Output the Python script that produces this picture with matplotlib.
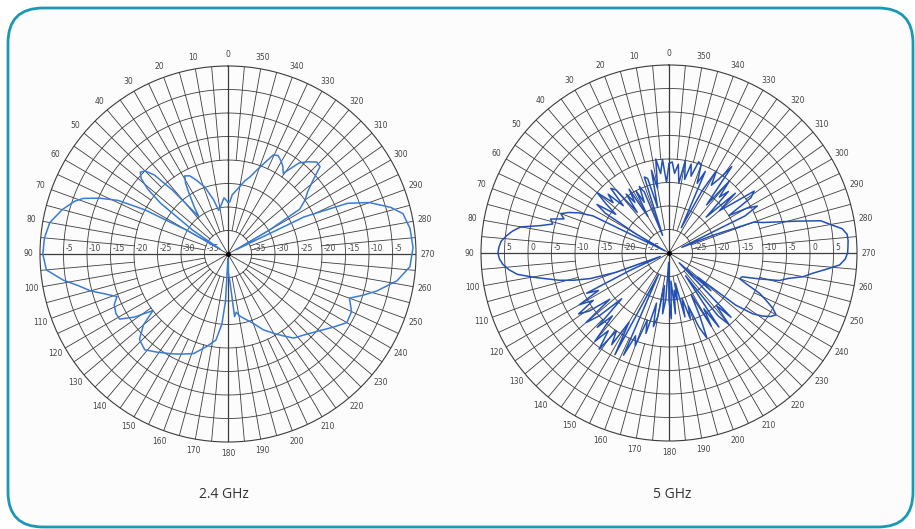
import numpy as np
import matplotlib.pyplot as plt
from matplotlib.patches import FancyBboxPatch

# 2.4 GHz pattern (angle in degrees, gain in dB)
ang24 = [0, 4, 8, 12, 15, 19, 23, 26, 29, 31, 33, 36, 38, 41, 43, 45, 47, 49, 51, 53,
         56, 58, 60, 62, 64, 66.5, 69, 71, 75, 80, 85, 90, 95, 99, 102, 105, 108, 111,
         114, 118, 121, 124, 127, 130, 134, 139, 144, 150, 155, 161, 167, 172, 175, 177,
         179, 181, 184, 186, 188, 191, 196, 200, 205, 210, 214, 218, 224, 230, 235, 240,
         245, 250, 253, 256, 261, 266, 272, 278, 283, 286, 290, 293, 296, 298, 300, 302,
         305, 308, 311, 313.5, 316, 319, 322, 325.6, 328, 330, 333, 335.4, 338, 341, 344,
         347, 350, 353, 356, 358]
gain24 = [-29, -28, -29.5, -30.5, -28, -25, -23, -21.5, -21, -22.5, -25, -28, -30, -22,
          -17, -15, -14.5, -15.5, -18, -22, -31, -38, -30, -20, -14, -10.2, -7, -5.5,
          -3.5, -1.5, -0.8, -0.6, -1.2, -4.5, -7.5, -9.7, -12.5, -14.7, -13.5, -13,
          -13.1, -16, -20, -16.5, -13.8, -13, -14.2, -15.5, -16.5, -17.6, -19.8, -21.5,
          -25, -30, -39, -36, -34, -26.6, -27.5, -26.5, -25.4, -24.3, -22.2, -20.5, -19,
          -17.3, -16.2, -14.6, -12.8, -10.8, -11, -12.5, -10, -7.4, -3.6, -1.2, -0.6,
          -0.9, -1.8, -4, -8, -12.4, -22, -38, -30, -22, -20, -18.5, -16, -13, -12.8,
          -14, -15.4, -19.2, -18, -17.3, -16.5, -16.8, -19, -21.1, -22.9, -24, -25.4,
          -26.5, -27.4, -28.9]

# 5 GHz pattern, every 2 degrees
ang5 = list(range(0, 360, 2))
gain5 = [-11, -15, -10, -13, -9.8, -16, -12, -20, -13.5, -13,
         -26, -16, -14.5, -18, -15, -21, -14, -17, -14.5, -19,
         -12.5, -11.5, -16, -12, -14, -10, -13, -16, -11.5, -14,
         -22, -29, -12, -9, -7, -5.5, -6.5, -3.8, -4.5, -2,
         2, 3.6, 4.8, 5.8, 6.2, 6.4, 6.1, 5.4, 4.2, 2.6,
         -0.5, -3.5, -6, -9, -12.4, -18, -28, -21, -10.5, -13,
         -8, -11, -6.8, -9, -14, -7, -10, -16, -8, -12,
         -5.5, -9, -4.7, -10, -7, -13, -5.5, -25, -6.2, -11,
         -9, -15, -12.2, -19, -14, -16.2, -23, -17, -20, -28,
         -20, -16, -24, -17, -22, -19.8, -23.4, -16, -20, -15.2,
         -18, -13, -10.2, -15, -20, -12, -16, -11, -24, -13,
         -10.2, -15, -11, -27, -18, -22, -12, -8, -6, -4.5,
         -3.7, -5, -7, -8.9, -12, -14, -13.6, -10, -5.8, -4,
         -1, 0.9, 3.5, 6.4, 7.5, 8, 8.1, 8.2, 8.1, 7.2,
         4.9, 3, -2, -6, -9, -10.8, -20, -27, -12, -8.7,
         -11, -15, -9, -7.6, -13, -16, -11, -19, -11.8, -14,
         -10, -17, -7.3, -11, -13, -9.7, -15, -24, -11, -14,
         -10, -9.6, -13, -10.5, -14, -10, -15, -11, -13, -10.6]

rings24 = [-5, -10, -15, -20, -25, -30, -35]
rings5 = [5, 0, -5, -10, -15, -20, -25]
titles = ['2.4 GHz', '5 GHz']

gc = '#3c3c3c'
fig = plt.figure(figsize=(9.15, 5.29), dpi=100)

bg = fig.add_axes([0, 0, 1, 1])
bg.set_xlim(0, 915)
bg.set_ylim(529, 0)
bg.axis('off')
bg.add_patch(FancyBboxPatch((8, 8), 905, 519, boxstyle='round,pad=0,rounding_size=35',
                            fc='#fcfcfd', ec='#1a98b4', lw=2))


def polar_chart(rect, ang, gain, rings, lo, hi, color):
    ax = fig.add_axes(rect, projection='polar')
    ax.set_theta_zero_location('N')
    ax.set_theta_direction(1)
    ax.set_ylim(lo, hi)
    ax.set_xticks([])
    ax.set_yticks([])
    ax.grid(False)
    ax.set_facecolor('none')
    ax.spines['polar'].set_color(gc)
    ax.spines['polar'].set_linewidth(0.8)
    step = (hi - lo) / 8
    t = np.linspace(0, 2 * np.pi, 361)
    for i in range(1, 8):
        ax.plot(t, np.full_like(t, lo + i * step), color=gc, lw=0.6)
    for a in range(0, 360, 5):
        if a % 30 == 0:
            r0 = lo
        elif a % 10 == 0:
            r0 = lo + step
        else:
            r0 = lo + 4 * step
        ax.plot([np.deg2rad(a)] * 2, [r0, hi], color=gc, lw=0.9 if a % 90 == 0 else 0.6)
    for a in range(0, 360, 10):
        ax.text(np.deg2rad(a), lo + 1.062 * (hi - lo), str(a), ha='center', va='center',
                fontsize=5.5, color='#444444', clip_on=False)
    for v in rings:
        for th in (90, 270):
            ax.annotate(str(v), xy=(np.deg2rad(th), v), xytext=(1.5, 0.6),
                        textcoords='offset points', ha='left', va='bottom',
                        fontsize=5.5, color='#444444')
    th = np.deg2rad(np.append(ang, ang[0]))
    g = np.append(gain, gain[0])
    ax.plot(th, g, color=color, lw=1.1, zorder=5)
    ax.plot(0, lo, 'o', ms=2.5, color='black', zorder=6)
    return ax


polar_chart([40 / 915, 87 / 529, 376 / 915, 376 / 529], ang24, gain24, rings24, -40, 0, '#3a7bd5')
polar_chart([481 / 915, 88 / 529, 376 / 915, 376 / 529], ang5, gain5, rings5, -30, 10, '#2350b5')

bg.text(224, 494, titles[0], ha='center', va='center', fontsize=10, color='#333333', family='Open Sans')
bg.text(672, 494, titles[1], ha='center', va='center', fontsize=10, color='#333333', family='Open Sans')

fig.savefig('out.png', dpi=100)
